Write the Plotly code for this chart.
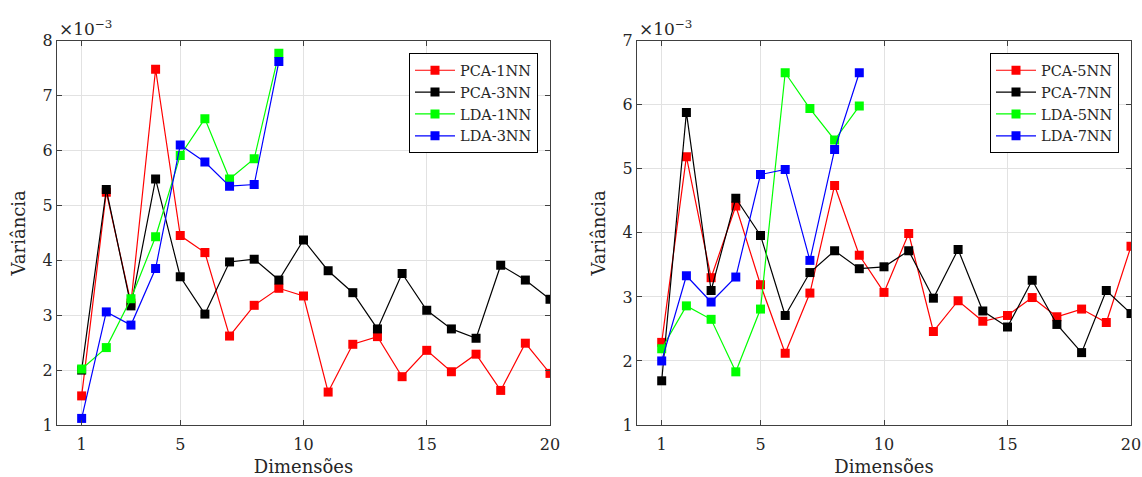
import plotly.graph_objects as go

dims = list(range(1, 21))
dims_lda = list(range(1, 10))

# Left panel (values x 1e-3)
pca_1nn = [1.53, 5.24, 3.22, 7.48, 4.45, 4.14, 2.62, 3.18, 3.49, 3.35,
           1.60, 2.47, 2.61, 1.88, 2.36, 1.97, 2.29, 1.63, 2.49, 1.94]
pca_3nn = [2.00, 5.29, 3.17, 5.48, 3.70, 3.02, 3.97, 4.02, 3.64, 4.37,
           3.81, 3.41, 2.75, 3.76, 3.09, 2.75, 2.58, 3.91, 3.64, 3.29]
lda_1nn = [2.02, 2.41, 3.30, 4.43, 5.91, 6.58, 5.48, 5.85, 7.77]
lda_3nn = [1.12, 3.06, 2.82, 3.85, 6.10, 5.79, 5.35, 5.38, 7.62]

# Right panel (values x 1e-3)
pca_5nn = [2.29, 5.19, 3.30, 4.42, 3.19, 2.12, 3.06, 4.74, 3.65, 3.07,
           3.99, 2.46, 2.94, 2.62, 2.71, 2.99, 2.69, 2.81, 2.60, 3.79]
pca_7nn = [1.69, 5.88, 3.10, 4.54, 3.96, 2.71, 3.38, 3.72, 3.44, 3.47,
           3.72, 2.98, 3.74, 2.78, 2.53, 3.26, 2.57, 2.13, 3.10, 2.74]
lda_5nn = [2.19, 2.86, 2.65, 1.83, 2.81, 6.50, 5.94, 5.45, 5.98]
lda_7nn = [2.00, 3.33, 2.92, 3.31, 4.91, 4.99, 3.57, 5.30, 6.50]

x_ticks = [1, 5, 10, 15, 20]
left_yticks = [1, 2, 3, 4, 5, 6, 7, 8]
right_yticks = [1, 2, 3, 4, 5, 6, 7]

RED, BLACK, GREEN, BLUE = "#ff0000", "#000000", "#00ff00", "#0000ff"
FONT = "DejaVu Serif"

fig = go.Figure()

def add(x, y, name, color, xa, ya, legend):
    fig.add_trace(go.Scatter(
        x=x, y=[v * 1e-3 for v in y], name=name, mode="lines+markers",
        line=dict(color=color, width=1.2),
        marker=dict(symbol="square", size=9, color=color),
        xaxis=xa, yaxis=ya, legend=legend))

add(dims, pca_1nn, "PCA-1NN", RED, "x", "y", "legend")
add(dims, pca_3nn, "PCA-3NN", BLACK, "x", "y", "legend")
add(dims_lda, lda_1nn, "LDA-1NN", GREEN, "x", "y", "legend")
add(dims_lda, lda_3nn, "LDA-3NN", BLUE, "x", "y", "legend")

add(dims, pca_5nn, "PCA-5NN", RED, "x2", "y2", "legend2")
add(dims, pca_7nn, "PCA-7NN", BLACK, "x2", "y2", "legend2")
add(dims_lda, lda_5nn, "LDA-5NN", GREEN, "x2", "y2", "legend2")
add(dims_lda, lda_7nn, "LDA-7NN", BLUE, "x2", "y2", "legend2")

W, H = 1142, 477
ytop, ybot = 1 - 40.7 / H, 1 - 425 / H

axis_common = dict(
    showline=True, linecolor="#404040", linewidth=1, mirror="ticks",
    ticks="inside", ticklen=5, tickcolor="#404040", automargin=False,
    showgrid=True, gridcolor="#e2e2e2", gridwidth=1, zeroline=False,
    tickfont=dict(family=FONT, size=16, color="#262626"),
)

fig.update_layout(
    width=W, height=H,
    margin=dict(l=0, r=0, t=0, b=0),
    plot_bgcolor="white", paper_bgcolor="white",
    font=dict(family=FONT, color="#262626"),
    xaxis=dict(domain=[57 / W, 550 / W], range=[0, 20], tickvals=x_ticks,
               ticklabelstandoff=5,
               title=dict(text="Dimensões", font=dict(size=18), standoff=7),
               anchor="y", **axis_common),
    yaxis=dict(domain=[ybot, ytop], range=[1e-3, 8e-3],
               tickvals=[v * 1e-3 for v in left_yticks],
               ticktext=[str(v) for v in left_yticks],
               title=dict(text="Variância", font=dict(size=18), standoff=12),
               anchor="x", **axis_common),
    xaxis2=dict(domain=[637 / W, 1131 / W], range=[0, 20], tickvals=x_ticks,
                ticklabelstandoff=5,
                title=dict(text="Dimensões", font=dict(size=18), standoff=7),
                anchor="y2", **axis_common),
    yaxis2=dict(domain=[ybot, ytop], range=[1e-3, 7e-3],
                tickvals=[v * 1e-3 for v in right_yticks],
                ticktext=[str(v) for v in right_yticks],
                title=dict(text="Variância", font=dict(size=18), standoff=12),
                anchor="x2", **axis_common),
    legend=dict(x=538 / W, y=1 - 53.3 / H, xanchor="right", yanchor="top",
                bordercolor="#000000", borderwidth=1, bgcolor="white",
                font=dict(family=FONT, size=14.5, color="#262626"),
                tracegroupgap=0, itemwidth=40),
    legend2=dict(x=1119 / W, y=1 - 53.3 / H, xanchor="right", yanchor="top",
                 bordercolor="#000000", borderwidth=1, bgcolor="white",
                 font=dict(family=FONT, size=14.5, color="#262626"),
                 tracegroupgap=0, itemwidth=40),
    showlegend=True,
)

for xpos in (57, 637):
    fig.add_annotation(x=xpos / W, y=1 - 40.7 / H, xref="paper", yref="paper",
                       xanchor="left", yanchor="bottom", showarrow=False,
                       text="×10<sup>−3</sup>",
                       font=dict(family=FONT, size=17, color="#262626"))

fig.write_html("out.html", config={"displayModeBar": False},
               post_script="document.body.style.margin='0';document.body.style.overflow='hidden';")
